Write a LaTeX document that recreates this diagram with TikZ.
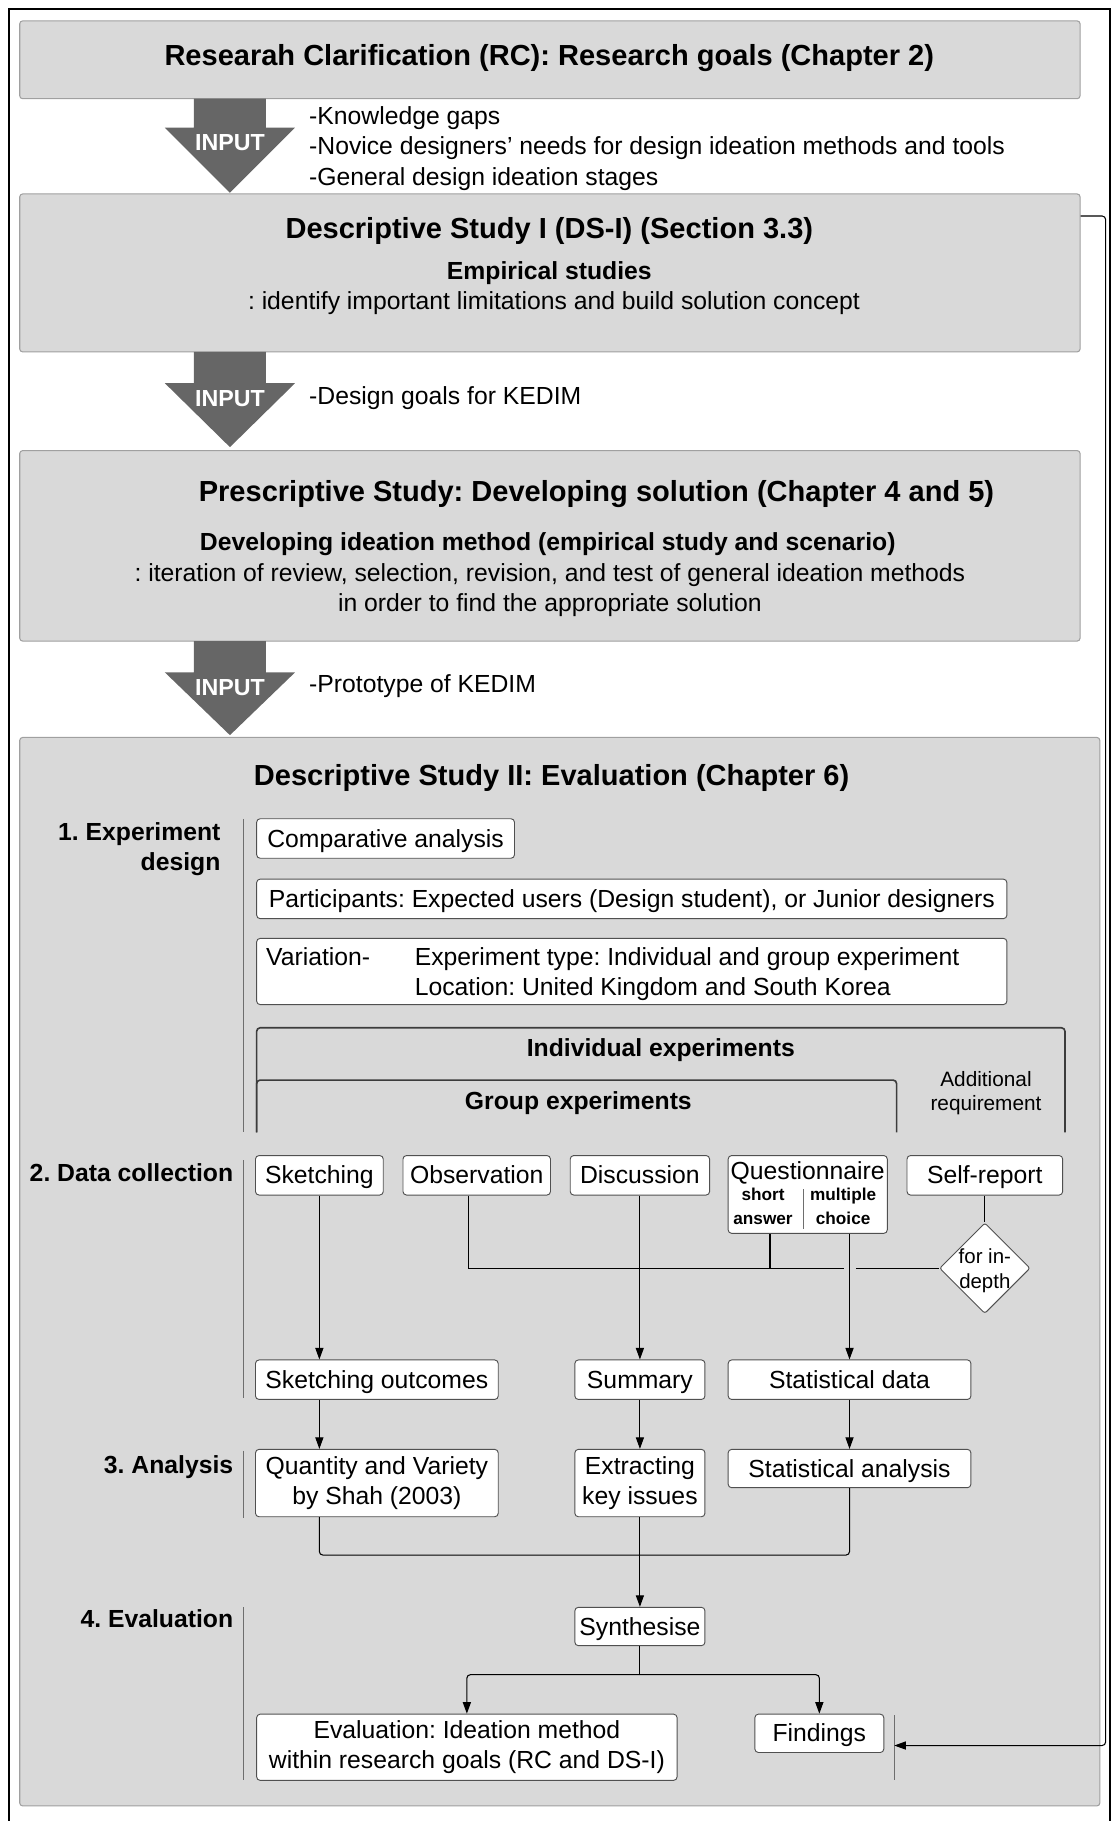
\documentclass[tikz,border=0pt]{standalone}
\usepackage{fontspec}
\setmainfont{Liberation Sans}
\usetikzlibrary{arrows.meta,shapes.geometric}
\frenchspacing

\definecolor{panel}{RGB}{217,217,217}
\definecolor{panelline}{RGB}{160,160,160}
\definecolor{blockarrow}{RGB}{102,102,102}
\definecolor{boxline}{RGB}{80,80,80}
\definecolor{divline}{RGB}{110,110,110}
\definecolor{bracketline}{RGB}{60,60,60}

\newcommand{\fs}[2]{\fontsize{#1}{#2}\selectfont}
% a rectangular node given by its corners: name, style, x1, y1, x2, y2, text
\newcommand{\rectnode}[7]{%
  \node[#2, minimum width={(#5)-(#3)}, minimum height={(#6)-(#4)}]
    (#1) at ({((#3)+(#5))/2},{((#4)+(#6))/2}) {#7};}
% the grey block arrow with its INPUT label: name, top, head start, tip
\newcommand{\inputarrow}[4]{%
  \fill[blockarrow] (167,#2) -- (229,#2) -- (229,#3) -- (254,#3) -- (198,#4)
    -- (142,#3) -- (167,#3) -- cycle;
  \node[inlabel] (#1) at (198,{(#3)+13}) {INPUT};}

\tikzset{
  panelbox/.style={draw=panelline, fill=panel, line width=0.9pt,
    rounded corners=2.5pt, inner sep=0pt},
  wbox/.style={draw=boxline, fill=white, line width=0.8pt,
    rounded corners=3pt, inner sep=0pt},
  ttl/.style={font=\bfseries\fs{25}{30}, inner sep=0pt,
    text height=20pt, text depth=3pt},
  sub/.style={font=\bfseries\fs{21.3}{26}, inner sep=0pt,
    text height=17.3pt, text depth=2.5pt},
  txt/.style={font=\fs{21.3}{26}, inner sep=0pt,
    text height=17.3pt, text depth=2.5pt},
  multi/.style={font=\fs{21.3}{26}, align=center},
  seclbl/.style={font=\bfseries\fs{21.3}{26}, inner sep=0pt, align=right},
  inlabel/.style={font=\bfseries\fs{20}{24}, text=white, inner sep=0pt,
    text height=16pt, text depth=2pt},
  conn/.style={line width=0.9pt, draw=black},
  arr/.style={conn, -{Triangle[length=10pt,width=7pt]}},
  bracket/.style={line width=1.4pt, draw=bracketline, rounded corners=3pt},
  divider/.style={line width=0.8pt, draw=divline},
}

\begin{document}
\begin{tikzpicture}[x=1pt,y=-1pt]
\useasboundingbox (0,0) rectangle (958,1568);

% outer frame
\draw[line width=1.4pt] (8,1580) -- (8,8) -- (956,8) -- (956,1580);

% ---- Research clarification ----
\rectnode{rc}{panelbox}{17}{18}{930}{85}{}
\node[ttl] (rcT) at (473,48) {Researah Clarification (RC): Research goals (Chapter 2)};

\inputarrow{in1}{85}{110}{166}
\node[txt, anchor=west] (k1) at (266,100) {-Knowledge gaps};
\node[txt, anchor=west] (k2) at (266,126) {-Novice designers’ needs for design ideation methods and tools};
\node[txt, anchor=west] (k3) at (266,152) {-General design ideation stages};

% ---- Descriptive study I ----
\rectnode{ds1}{panelbox}{17}{167}{930}{303}{}
\node[ttl] (ds1T) at (473,197) {Descriptive Study I (DS-I) (Section 3.3)};
\node[sub] (ds1S) at (473,233) {Empirical studies};
\node[txt] (ds1D) at (477,259) {: identify important limitations and build solution concept};

\inputarrow{in2}{303}{330}{385}
\node[txt, anchor=west] (g1) at (266,341) {-Design goals for KEDIM};

% ---- Prescriptive study ----
\rectnode{ps}{panelbox}{17}{388}{930}{552}{}
\node[ttl, anchor=west] (psT) at (171,423) {Prescriptive Study: Developing solution (Chapter 4 and 5)};
\node[sub, anchor=west] (psS) at (172,467) {Developing ideation method (empirical study and scenario)};
\node[txt] (psD1) at (473.5,493) {: iteration of review, selection, revision, and test of general ideation methods};
\node[txt] (psD2) at (473.5,519) {in order to find the appropriate solution};

\inputarrow{in3}{552}{579}{633}
\node[txt, anchor=west] (p1) at (266,589) {-Prototype of KEDIM};

% ---- Descriptive study II ----
\rectnode{ds2}{panelbox}{17}{635}{947}{1555}{}
\node[ttl] (ds2T) at (475,668) {Descriptive Study II: Evaluation (Chapter 6)};

% stage labels and their rules
\node[seclbl, anchor=east] (s1) at (190,731) {1. Experiment\\design};
\node[seclbl, anchor=east, text height=17.3pt, text depth=2.5pt] (s2) at (201,1010) {2. Data collection};
\node[seclbl, anchor=east, text height=17.3pt, text depth=2.5pt] (s3) at (201,1261) {3. Analysis};
\node[seclbl, anchor=east, text height=17.3pt, text depth=2.5pt] (s4) at (201,1394) {4. Evaluation};
\draw[divider] (210,705) -- (210,975);
\draw[divider] (210,999) -- (210,1204);
\draw[divider] (210,1249) -- (210,1307);
\draw[divider] (210,1384) -- (210,1533);

% experiment design
\rectnode{cmp}{wbox,txt}{221}{705}{443}{739}{Comparative analysis}
\rectnode{prt}{wbox,txt}{221}{757}{867}{791}{Participants: Expected users (Design student), or Junior designers}
\rectnode{var}{wbox}{221}{808}{867}{865}{}
\node[txt, anchor=west] (varL) at (229,824) {Variation-};
\node[txt, anchor=west] (varA) at (357,824) {Experiment type: Individual and group experiment};
\node[txt, anchor=west] (varB) at (357,850) {Location: United Kingdom and South Korea};

% experiment groupings
\draw[bracket] (221,975) -- (221,885) -- (917,885) -- (917,975);
\draw[bracket] (221,975) -- (221,930) -- (772,930) -- (772,975);
\node[sub] (indiv) at (569,902) {Individual experiments};
\node[sub] (group) at (498,948) {Group experiments};
\node[font=\fs{17.9}{21}, align=center, inner sep=0pt] (addreq) at (849,941) {Additional\\requirement};

% data collection
\rectnode{sk}{wbox,txt}{220}{995}{330}{1029}{Sketching}
\rectnode{obs}{wbox,txt}{347}{995}{474}{1029}{Observation}
\rectnode{disc}{wbox,txt}{491}{995}{611}{1029}{Discussion}
\rectnode{qn}{wbox}{627}{995}{764}{1062}{}
\node[txt] (qnT) at (695.5,1008) {Questionnaire};
\node[font=\bfseries\fs{14.8}{21}, align=center, inner sep=0pt] (qsa) at (657,1039) {short\\answer};
\node[font=\bfseries\fs{14.8}{21}, align=center, inner sep=0pt] (qmc) at (726,1039) {multiple\\choice};
\draw[divider] (692,1024) -- (692,1058);
\rectnode{sr}{wbox,txt}{781}{995}{915}{1029}{Self-report}
\node[diamond, draw=boxline, fill=white, line width=0.8pt, rounded corners=2pt,
  minimum width=78pt, minimum height=78pt, inner sep=0pt] (dia) at (848,1092) {};
\node[font=\fs{17.6}{22}, align=center, inner sep=0pt] (diaT) at (848,1094) {for in-\\depth};

% data processing
\rectnode{sko}{wbox,txt}{220}{1171}{429}{1205}{Sketching outcomes}
\rectnode{sum}{wbox,txt}{495}{1171}{607}{1205}{Summary}
\rectnode{statd}{wbox,txt}{627}{1171}{836}{1205}{Statistical data}

% analysis
\rectnode{qv}{wbox,multi}{220}{1248}{429}{1306}{Quantity and Variety\\by Shah (2003)}
\rectnode{ext}{wbox,multi}{495}{1248}{607}{1306}{Extracting\\key issues}
\rectnode{stata}{wbox,txt}{627}{1248}{836}{1281}{Statistical analysis}

% evaluation
\rectnode{syn}{wbox,txt}{495}{1384}{607}{1417}{Synthesise}
\rectnode{evb}{wbox,multi}{221}{1476}{583}{1533}{Evaluation: Ideation method\\within research goals (RC and DS-I)}
\rectnode{fnd}{wbox,txt}{650}{1476}{761}{1509}{Findings}

% connectors: data collection
\coordinate (jl) at (727,1092);
\coordinate (jr) at (737,1092);
\draw[conn] (sr.south) -- (dia.north);
\draw[conn] ([xshift=-7.5pt]obs.south) |- (jl);
\draw[conn] (jr) -- (dia.west);
\draw[conn] ([xshift=-32.5pt]qn.south) -- ([xshift=-32.5pt]qn.south |- jl);
\draw[arr] (statd.north |- qn.south) -- (statd.north);
\draw[arr] (sk.south) -- (sk.south |- sko.north);
\draw[arr] (disc.south) -- (disc.south |- sum.north);

% connectors: analysis
\draw[arr] (sk.south |- sko.south) -- (sk.south |- qv.north);
\draw[arr] (sum.south) -- (ext.north);
\draw[arr] (statd.south) -- (stata.north);
\coordinate (mg) at (551,1339);
\draw[conn, rounded corners=3pt] (sk.south |- qv.south) |- (mg) -| (stata.south);
\draw[arr] (ext.south) -- (syn.north);

% connectors: evaluation
\coordinate (br) at (551,1442);
\draw[conn] (syn.south) -- (br);
\draw[arr, rounded corners=3pt] (br) -| (evb.north);
\draw[arr, rounded corners=3pt] (br) -| (fnd.north);

% feedback from DS-I to the findings
\coordinate (fbC) at (952,1503);
\coordinate (barT) at (770,1477);
\coordinate (barB) at (770,1533);
\coordinate (barM) at (770,1503);
\draw[divider] (barT) -- (barB);
\draw[arr, rounded corners=3pt] ([yshift=49pt]ds1.east) -| (fbC) -- (barM);
\end{tikzpicture}
\end{document}
